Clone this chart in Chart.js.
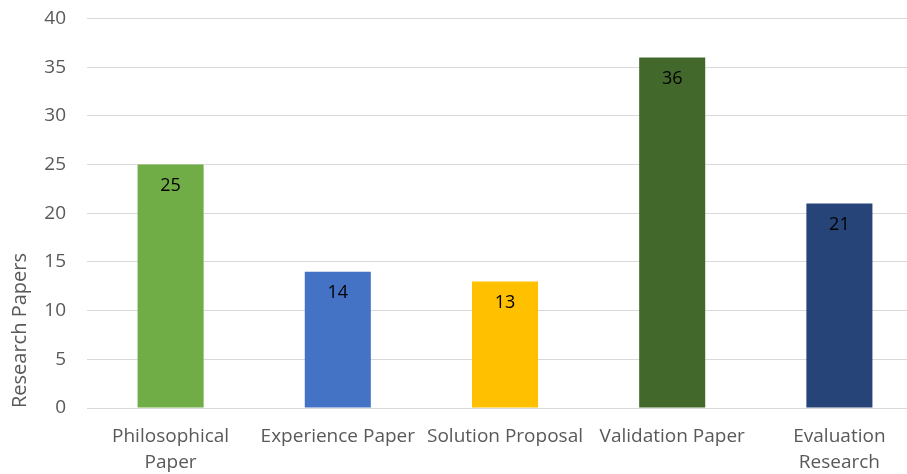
<!DOCTYPE html>
<html>
<head>
<meta charset="utf-8">
<script src="https://cdn.jsdelivr.net/npm/chart.js@4.4.1/dist/chart.umd.min.js"></script>
<style>
html,body{margin:0;padding:0;background:#fff;overflow:hidden;}
#wrap{width:923px;height:474px;}
</style>
</head>
<body>
<div id="wrap"><canvas id="c" width="923" height="474"></canvas></div>
<script>
const categories = [["Philosophical","Paper"],"Experience Paper","Solution Proposal","Validation Paper",["Evaluation","Research"]];
const values = [25, 14, 13, 36, 21];
const barColors = ["#70AD47","#4472C4","#FFC000","#43682B","#264478"];
const yTicks = [0,5,10,15,20,25,30,35,40];
const yTitle = "Research Papers";

const FONT = "'Open Sans', 'Noto Sans', sans-serif";

const labelPlugin = {
  id: 'barLabels',
  afterDatasetsDraw(chart) {
    const ctx = chart.ctx;
    const meta = chart.getDatasetMeta(0);
    ctx.save();
    ctx.font = "18px " + FONT;
    ctx.fillStyle = "#000000";
    ctx.textAlign = "center";
    ctx.textBaseline = "middle";
    meta.data.forEach((el, i) => {
      ctx.fillText(String(values[i]), el.x, el.y + 21);
    });
    ctx.restore();
  }
};

new Chart(document.getElementById('c'), {
  type: 'bar',
  data: {
    labels: categories,
    datasets: [{
      data: values,
      backgroundColor: barColors,
      borderWidth: 0,
      barPercentage: 0.395,
      categoryPercentage: 1.0
    }]
  },
  options: {
    responsive: false,
    animation: false,
    devicePixelRatio: 1,
    layout: { padding: { top: 0, right: 0, left: 0, bottom: 0 } },
    plugins: { legend: { display: false }, tooltip: { enabled: false } },
    scales: {
      x: {
        grid: { display: false, drawTicks: false },
        border: { display: true, color: "#d9d9d9", width: 1 },
        ticks: {
          color: "#595959",
          font: { family: FONT, size: 19, lineHeight: 1.37 },
          padding: 16,
          maxRotation: 0,
          autoSkip: false
        },
        afterFit(scale) { scale.height = 66; }
      },
      y: {
        min: 0, max: 40,
        afterBuildTicks(scale) { scale.ticks = yTicks.map(v => ({ value: v })); },
        grid: { color: "#d9d9d9", lineWidth: 1, drawTicks: false },
        border: { display: false },
        ticks: {
          color: "#595959",
          font: { family: FONT, size: 19 },
          padding: 21
        },
        title: {
          display: true,
          text: yTitle,
          align: 'start',
          color: "#595959",
          font: { family: FONT, size: 20 },
          padding: { top: 8, bottom: 0 }
        },
        afterFit(scale) {
          scale.width = 87;
          scale.paddingTop = 18.5;
          scale.paddingBottom = 0;
        }
      }
    }
  },
  plugins: [labelPlugin]
});
</script>
</body>
</html>
